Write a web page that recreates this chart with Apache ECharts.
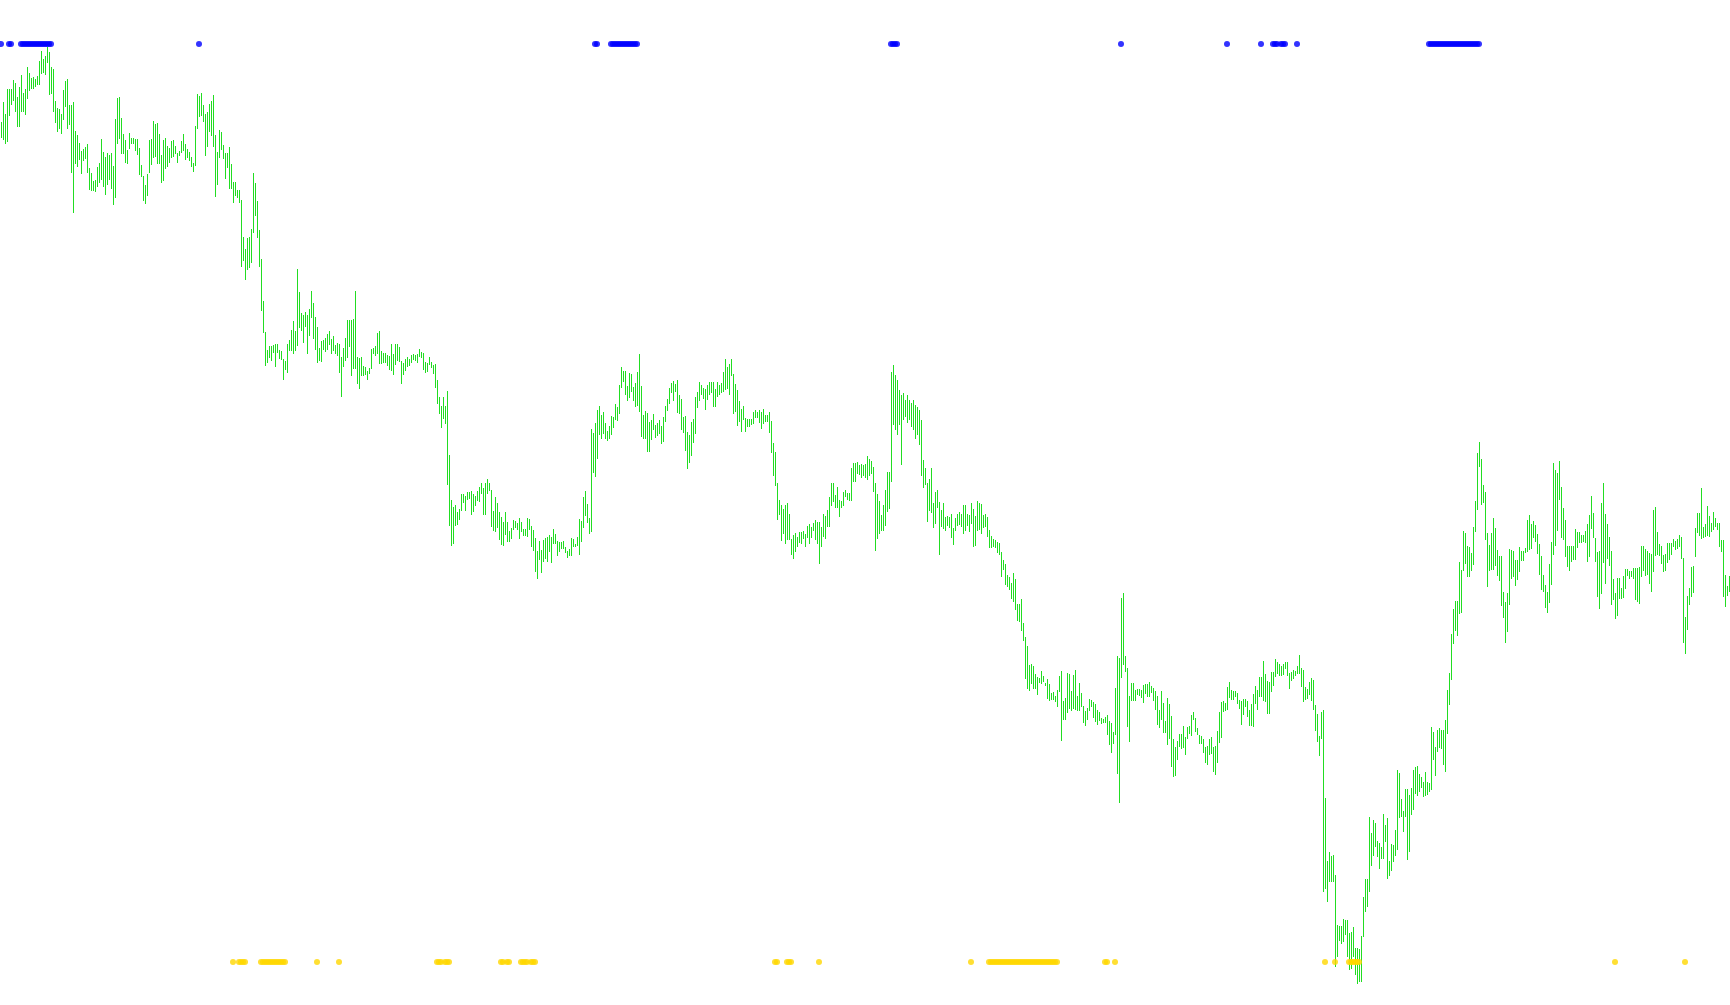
<!DOCTYPE html>
<html><head><meta charset="utf-8">
<script src="https://cdn.jsdelivr.net/npm/echarts@6/dist/echarts.min.js"></script>
<style>html,body{margin:0;padding:0;background:#fff;overflow:hidden}#c{width:1730px;height:1005px;}</style>
</head><body><div id="c"></div>
<script>
// Bar highs (one per period)
const high = [
883,903,891,916,916,916,925,922,908,918, 930,912,916,938,932,927,928,926,929,944,
954,946,949,958,953,938,936,904,897,896, 891,915,924,926,900,900,903,874,870,862,
854,856,858,861,837,832,824,825,838,842, 866,853,848,852,850,852,839,886,907,908,
887,871,865,855,872,867,867,866,866,857, 840,829,820,831,865,866,884,881,882,871,
850,865,867,859,857,864,865,859,852,854, 864,871,861,856,853,848,842,879,911,909,
912,900,891,893,901,904,910,870,853,875, 873,860,852,852,858,841,823,823,815,815,
805,768,756,767,768,776,832,822,804,775, 746,704,673,655,659,659,660,661,661,655,
654,646,644,661,665,
675,684,674,736,713,692,690,693,690,696, 714,702,688,678,657,664,665,667,671,674,
666,669,660,662,661,648,657,667,685,685, 685,686,714,648,647,648,639,638,634,637,
656,657,659,672,674,654,652,652,650,649, 661,651,661,661,658,644,642,646,648,646,
650,651,650,651,656,653,652,643,642,648, 643,640,641,625,608,599,608,599,614,550,
505,498,500,493,496,511,511,509,513,513, 514,511,509,514,518,522,517,522,526,522,
515,494,508,502,493,488,483,493,483,474, 477,485,484,482,487,483,476,476,487,486,
479,475,467,454,464,455,465,467,468,470, 468,476,471,464,463,463,464,458,454,456,
467,466,461,468,486,
484,508,514,501,487,576,572,582,595,599, 590,593,582,574,579,589,588,601,598,620,
638,634,634,619,632,631,618,622,633,651, 619,590,594,592,583,585,591,580,582,585,
579,588,599,606,617,622,624,621,625,610, 606,588,589,573,570,583,586,608,613,623,
620,617,616,620,623,623,623,616,623,620, 622,633,646,638,641,646,631,621,615,604,
596,599,587,586,586,586,593,595,593,595, 593,596,590,590,593,584,562,553,522,505,
500,496,500,502,491,466,470,472,468,473, 473,474,471,479,481,478,482,485,483,483,
478,491,489,495,508,522,522,510,518,505, 504,513,515,512,512,537,542,542,543,540,
541,540,541,549,546,
544,538,522,511,504,490,500,515,533,533, 633,640,630,625,615,610,612,605,610,605,
602,605,600,598,595,585,545,537,522,526, 537,502,513,515,503,495,502,488,489,488,
491,477,487,491,493,491,500,500,491,490, 502,496,489,504,502,501,490,491,488,475,
469,466,465,463,462,453,445,441,430,428, 422,432,426,401,401,406,382,368,359,340,
341,339,331,328,327,334,329,322,326,321, 312,313,309,315,329,334,304,307,332,331,
314,330,335,309,322,312,299,294,297,306, 305,303,301,295,293,287,286,288,290,284,
282,273,317,349,347,407,412,349,337,309, 322,322,315,316,316,315,320,321,321,323,
319,317,314,309,295,
314,302,284,307,301,289,266,258,264,271, 271,279,268,278,279,290,293,287,277,270,
269,266,258,259,266,268,258,259,274,293, 303,304,302,318,323,315,314,314,312,305,
304,306,306,304,295,301,311,319,315,328, 328,344,331,324,323,333,333,346,343,341,
339,341,343,343,332,333,335,334,339,350, 337,335,318,316,323,327,325,300,291,269,
293,295,207,144,153,149,150,130,80,79, 79,86,85,85,72,73,78,57,57,56,
69,108,126,126,188,172,185,182,164,162, 158,191,180,187,144,161,160,175,235,232,
206,194,216,216,210,217,235,238,239,231, 228,223,233,223,222,278,273,258,275,277,
275,275,285,315,332,
371,396,404,404,443,435,474,472,459,458, 452,478,504,552,563,546,520,513,472,460,
472,487,477,455,449,449,413,403,412,456, 455,454,445,445,458,454,454,457,485,490,
481,484,480,471,461,449,430,420,413,441, 463,542,535,532,544,518,497,485,459,459,
459,459,476,473,473,470,470,474,481,490, 509,492,467,453,454,502,522,491,481,468,
454,426,412,427,427,417,429,436,436,434, 434,437,437,437,438,459,459,456,454,452,
451,495,498,473,461,459,450,451,462,462, 462,466,464,466,470,468,447,388,409,417,
438,439,477,492,492,517,478,481,499,489, 482,493,487,482,482,465,465,430,419,429
];
// Bar lows
const low = [
867,865,861,863,889,900,904,893,878,878, 893,893,890,906,914,916,916,918,920,920,
931,932,930,942,910,911,893,882,873,876, 871,885,898,876,880,832,792,841,838,845,
831,844,846,832,815,814,814,813,818,822, 825,818,810,820,825,816,800,807,861,866,
851,851,842,841,856,861,861,854,850,830, 828,804,801,809,832,840,847,848,841,841,
822,824,836,838,842,847,848,851,842,849, 852,854,845,847,844,838,833,839,876,888,
889,883,849,858,873,869,858,808,820,847, 855,846,826,837,816,816,802,809,807,802,
738,744,725,735,737,742,772,789,767,738, 694,672,639,642,647,644,652,638,652,646,
645,625,635,632,654,
654,651,654,659,677,674,662,678,651,669, 687,666,655,642,644,643,655,653,655,660,
651,654,651,649,632,608,638,644,647,658, 629,636,636,621,616,629,629,630,625,631,
636,651,649,651,641,641,642,642,639,635, 634,630,640,644,643,621,630,634,638,639,
642,645,644,642,648,647,635,632,633,640, 637,631,617,601,591,577,586,581,520,479,
459,461,479,480,485,494,502,494,505,506, 490,493,499,504,503,511,490,490,511,514,
478,474,473,477,465,460,459,470,463,463, 466,475,477,475,466,473,469,469,468,475,
458,454,433,426,445,432,443,446,443,453, 442,461,461,449,453,456,456,452,447,449,
449,458,458,459,450,
463,477,489,482,471,473,532,528,546,570, 566,571,566,564,566,570,577,585,584,591,
617,623,610,604,607,613,604,598,599,593, 568,566,566,553,553,565,575,567,569,571,
561,563,583,594,601,612,604,613,592,591, 575,572,554,536,542,549,562,571,597,604,
610,606,595,605,610,612,598,598,608,610, 612,613,615,616,610,629,591,593,579,583,
573,585,573,578,578,580,581,587,587,582, 576,581,583,583,572,552,529,519,485,490,
464,471,461,465,465,450,446,453,458,462, 461,466,458,467,461,467,474,465,461,441,
458,468,466,478,478,499,503,497,497,488, 497,499,508,505,504,504,523,523,531,530,
527,529,527,525,529,
531,513,454,466,471,474,474,479,493,496, 523,580,575,570,580,540,585,588,582,585,
578,575,566,570,560,529,517,520,483,494, 492,477,481,497,450,478,476,474,479,477,
467,460,474,479,480,478,471,474,479,473, 481,458,459,474,475,471,477,478,468,457,
457,458,457,452,450,428,435,420,418,415, 406,403,395,384,383,374,364,326,316,314,
321,316,316,310,322,321,323,319,306,304, 305,305,303,298,313,264,285,285,292,296,
294,296,295,294,294,298,282,279,285,294, 298,287,283,280,284,281,282,282,270,260,
252,261,270,231,202,327,340,333,278,263, 304,304,304,310,309,307,302,311,308,308,
312,304,295,280,277,
285,272,272,260,266,238,228,229,245,258, 256,257,250,266,271,269,285,273,270,261,
261,252,242,240,250,251,233,230,242,262, 267,293,294,295,307,305,305,308,301,296,
280,290,298,288,279,279,278,301,295,308, 308,304,303,291,291,313,319,328,331,329,
329,330,336,329,316,324,326,329,331,331, 318,303,305,306,310,304,295,274,263,249,
266,113,116,103,123,123,123,38,48,64, 61,63,70,48,35,36,48,30,21,23,
23,68,93,98,113,139,149,158,148,136, 146,146,163,126,129,134,143,149,155,187,
188,173,188,145,153,190,195,211,209,213, 217,208,209,210,213,215,245,229,253,257,
256,240,233,271,300,
325,361,374,369,391,392,434,441,428,428, 434,440,473,495,538,500,502,465,418,434,
435,435,439,429,424,399,387,362,373,400, 426,428,419,425,433,444,444,452,453,455,
456,467,463,451,430,415,413,397,392,402, 420,450,459,474,505,467,465,448,438,434,
443,445,445,457,462,462,463,462,443,448, 476,467,443,408,396,411,442,421,446,439,
400,405,386,389,406,406,407,416,429,426, 428,426,405,403,401,428,434,429,430,421,
413,433,449,450,449,441,433,434,442,445, 450,458,455,456,458,446,362,351,375,400,
408,412,448,472,469,466,467,468,469,468, 473,475,478,475,458,453,408,398,409,413
];
// Signal markers: period indices
const blueIdx = [0,4,5,10,11,12,13,14,15,16,17,18,19,20,21,22,23,24,25,99,297,298,
305,306,307,308,309,310,311,312,313,314,315,316,317,318,445,446,447,448,560,613,630,
636,637,638,640,641,642,648,714,715,716,717,718,719,720,721,722,723,724,725,726,727,728,
729,730,731,732,733,734,735,736,737,738,739];
const yellowIdx = [116,119,120,121,122,130,131,132,133,134,135,136,137,138,139,140,141,142,
158,169,218,219,220,222,223,224,250,251,253,254,260,261,262,263,265,266,267,
387,388,393,394,395,409,485,494,495,496,497,498,499,500,501,502,503,504,505,506,507,508,
509,510,511,512,513,514,515,516,517,518,519,520,521,522,523,524,525,526,527,528,
552,553,557,662,667,674,675,676,677,678,679,807,842];
const blueLevel = 961;
const yellowLevel = 43;
const categories = high.map((_, i) => String(i));

const chart = echarts.init(document.getElementById('c'), null, {renderer: 'canvas'});
chart.setOption({
  animation: false,
  backgroundColor: '#ffffff',
  grid: {left: 0, right: 0, top: 0, bottom: 0},
  xAxis: {type: 'category', data: categories, show: false, boundaryGap: true},
  yAxis: {type: 'value', min: 0, max: 1005, show: false},
  series: [
    {
      type: 'custom',
      data: high.map((h, i) => [i, h, low[i]]),
      encode: {x: 0, y: [1, 2]},
      renderItem: function (params, api) {
        const i = api.value(0);
        const pH = api.coord([i, api.value(1)]);
        const pL = api.coord([i, api.value(2)]);
        const x = Math.round(pH[0]);
        return {
          type: 'rect',
          shape: {x: x, y: pH[1], width: 1, height: Math.max(1, pL[1] - pH[1])},
          style: {fill: '#22dd22'}
        };
      }
    },
    {
      type: 'scatter', symbol: 'circle', symbolSize: 6,
      itemStyle: {color: '#0000ff'},
      data: blueIdx.map(i => [i, blueLevel])
    },
    {
      type: 'scatter', symbol: 'circle', symbolSize: 6,
      itemStyle: {color: '#ffd700'},
      data: yellowIdx.map(i => [i, yellowLevel])
    }
  ]
});
</script></body></html>
